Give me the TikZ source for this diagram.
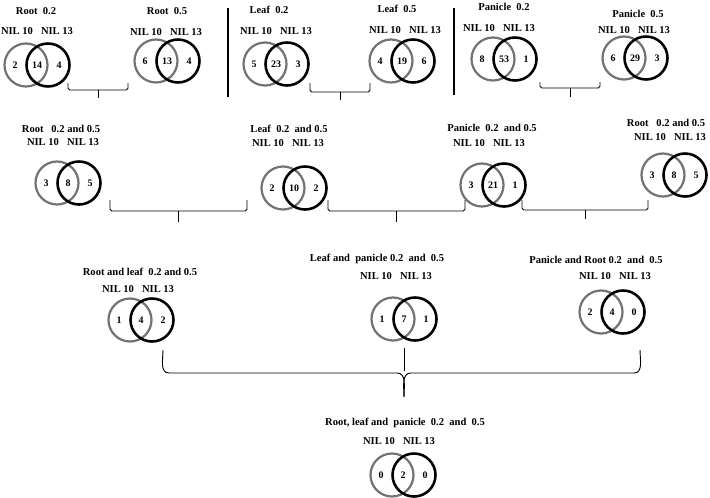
\documentclass[tikz,border=0pt]{standalone}
\usepackage{fontspec}
\setmainfont{Liberation Serif}
\usetikzlibrary{calc}

% one two-set diagram: name, title pos, title, label pos, centre, counts
\newcommand{\vennpair}[8]{%
    \node[ttl] (#1-t) at (#2) {#3};
    \node[nil] (#1-l) at ($(#4)+(-20,0)$) {NIL 10};
    \node[nil] (#1-r) at ($(#4)+(20,0)$) {NIL 13};
    \node[setA] (#1-a) at ($(#5)+(-11,0)$) {};
    \node[setB] (#1-b) at ($(#5)+(11,0)$) {};
    \node[num] (#1-1) at ($(#5)+(-22,0)$) {#6};
    \node[num] (#1-2) at (#5) {#7};
    \node[num] (#1-3) at ($(#5)+(22,0)$) {#8};
}
% square bracket with a stem: left, right, top, bar, tip
\newcommand{\bracket}[5]{%
    \draw[brk, rounded corners=1.5pt] (#1,#3) -- (#1,#4) -- (#2,#4) -- (#2,#3);
    \draw[brk] ({(#1+#2)/2},#4) -- ({(#1+#2)/2},#5);
}

\begin{document}
\begin{tikzpicture}[
    x=0.03cm, y=-0.03cm,
    ttl/.style={font=\bfseries\fontsize{9}{10}\selectfont, inner sep=0pt},
    nil/.style={font=\bfseries\fontsize{9}{10}\selectfont, inner sep=0pt},
    num/.style={font=\bfseries\fontsize{8.5}{10}\selectfont, inner sep=0pt},
    setA/.style={circle, draw=black!55, line width=1.9pt, minimum size=1.29cm, inner sep=0pt},
    setB/.style={circle, draw=black, line width=2.2pt, minimum size=1.29cm, inner sep=0pt},
    brk/.style={line width=0.8pt},
    sep/.style={line width=1pt}
]
    \useasboundingbox (0,0) rectangle (710,497);

    % Single tissues
    \vennpair{r2}{36,11}{Root~~0.2}{37,31}{37,65}{2}{14}{4}
    \vennpair{r5}{167,11}{Root~~0.5}{166,32}{167,61}{6}{13}{4}
    \vennpair{l2}{269,10}{Leaf~~0.2}{276,31}{276,64}{5}{23}{3}
    \vennpair{l5}{397,9}{Leaf~~0.5}{405,30}{402,61}{4}{19}{6}
    \vennpair{p2}{504,7}{Panicle~~0.2}{499,28}{504,59}{8}{53}{1}
    \vennpair{p5}{638,14}{Panicle~~0.5}{634,30}{635,58}{6}{29}{3}

    % Separators
    \draw[sep] (228,8) -- (228,97);
    \draw[sep] (454,8) -- (454,95);

    % Brackets below first row
    \bracket{68}{128}{83}{90}{98}
    \bracket{310}{370}{83}{92}{100}
    \bracket{540}{600}{82}{88}{97}

    % Both concentrations
    \vennpair{rb}{61,129}{Root~~~0.2 and 0.5}{63,142}{68,183}{3}{8}{5}
    \vennpair{lb}{289,129}{Leaf~~0.2~~and 0.5}{288,143}{294,188}{2}{10}{2}
    \vennpair{pb}{492,128}{Panicle~~0.2~~and 0.5}{489,143}{493,185}{3}{21}{1}
    \vennpair{rc}{666,123}{Root~~~0.2 and 0.5}{670,137}{674,175}{3}{8}{5}

    % Brackets below second row
    \bracket{110}{247}{200}{211}{222}
    \bracket{328}{465}{200}{211}{222}
    \bracket{522}{648}{200}{210}{219}

    % Pairs of tissues
    \vennpair{rl}{140,272}{Root and leaf~~0.2 and 0.5}{138,289}{141,320}{1}{4}{2}
    \vennpair{lp}{377,259}{Leaf and~~panicle 0.2~~and~~0.5}{396,276}{404,319}{1}{7}{1}
    \vennpair{pr}{596,260}{Panicle and Root 0.2~~and~~0.5}{615,276}{612,312}{2}{4}{0}

    % Large brace
    \coordinate (stem) at (404,348);
    \coordinate (bar) at (404,371);
    \draw[brk] (stem) -- (bar);
    \draw[brk] (163,350) to[out=-90,in=180] (169,373) -- (397,373) to[out=0,in=90] (404,397);
    \draw[brk] (640,350) to[out=-90,in=0] (634,373) -- (411,373) to[out=180,in=90] (404,397);

    % All tissues
    \vennpair{all}{405,423}{Root, leaf and~~panicle~~0.2~~and~~0.5}{399,441}{403,475}{0}{2}{0}
\end{tikzpicture}
\end{document}
